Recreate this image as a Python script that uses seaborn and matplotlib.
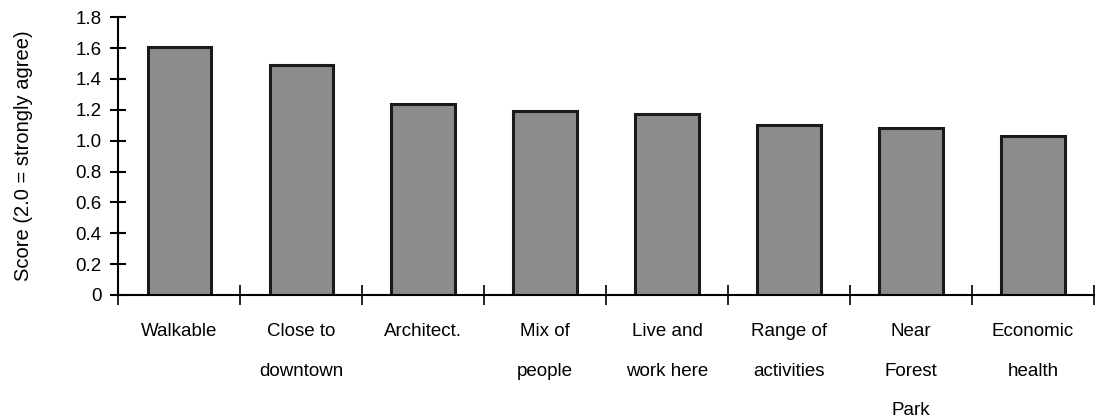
import numpy as np
import matplotlib
matplotlib.use("Agg")
import matplotlib.pyplot as plt
import seaborn as sns

# values
categories = ["Walkable", "Close to\ndowntown", "Architect.", "Mix of\npeople",
              "Live and\nwork here", "Range of\nactivities", "Near\nForest\nPark",
              "Economic\nhealth"]
scores = [1.61, 1.49, 1.24, 1.19, 1.17, 1.10, 1.08, 1.03]
y_ticks = [0, 0.2, 0.4, 0.6, 0.8, 1.0, 1.2, 1.4, 1.6, 1.8]
y_tick_labels = ["0", "0.2", "0.4", "0.6", "0.8", "1.0", "1.2", "1.4", "1.6", "1.8"]

sns.set_style("white")
plt.rcParams["font.family"] = ["Liberation Sans", "DejaVu Sans"]
plt.rcParams["text.color"] = "black"
plt.rcParams["axes.labelcolor"] = "black"
plt.rcParams["xtick.color"] = "black"
plt.rcParams["ytick.color"] = "black"

fig = plt.figure(figsize=(10.96, 4.19), dpi=100)
ax = fig.add_axes([0.108, 0.296, 0.890, 0.663])

sns.barplot(x=categories, y=scores, color="#8c8c8c", width=0.52,
            edgecolor="#1a1a1a", linewidth=2.2, saturation=1, ax=ax)

ax.set_xlim(-0.5, len(categories) - 0.5)
ax.set_ylim(0, 1.8)

for s in ["top", "right"]:
    ax.spines[s].set_visible(False)
for s in ["left", "bottom"]:
    ax.spines[s].set_color("black")
    ax.spines[s].set_linewidth(1.5)

ax.set_yticks(y_ticks)
ax.set_yticklabels(y_tick_labels, fontsize=13.5)
ax.tick_params(axis="y", direction="inout", length=12, width=1.5, pad=6, left=True)

# category labels at bar centres, boundary ticks between categories
ax.set_xticks(np.arange(len(categories)))
ax.set_xticklabels(categories, fontsize=13.5, linespacing=2.75, va="top")
ax.tick_params(axis="x", which="major", length=0, pad=20)
ax.set_xticks(np.arange(len(categories) + 1) - 0.5, minor=True)
ax.tick_params(axis="x", which="minor", direction="inout", length=14, width=1.2,
               bottom=True)

ax.set_ylabel("Score (2.0 = strongly agree)", fontsize=14.5)
ax.yaxis.set_label_coords(-0.088, 0.5)

fig.savefig("out.png", dpi=100)
